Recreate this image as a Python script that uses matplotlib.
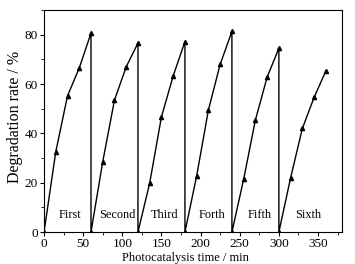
import matplotlib.pyplot as plt
from matplotlib.ticker import MultipleLocator

plt.rcParams['font.family'] = ['Liberation Serif', 'DejaVu Serif']

# photocatalysis time (min) and degradation rate (%) for six cycles
time = [0, 15, 30, 45, 60,
        60, 75, 90, 105, 120,
        120, 135, 150, 165, 180,
        180, 195, 210, 225, 240,
        240, 255, 270, 285, 300,
        300, 315, 330, 345, 360]
rate = [0, 32.5, 55.2, 66.5, 80.6,
        0, 28.5, 53.5, 67.0, 76.6,
        0, 19.9, 46.7, 63.3, 77.2,
        0, 22.8, 49.5, 68.0, 81.3,
        0, 21.4, 45.4, 62.8, 74.5,
        0, 22.0, 42.0, 54.6, 65.3]
cycle_names = ['First', 'Second', 'Third', 'Forth', 'Fifth', 'Sixth']
name_x = [33, 93, 154, 214, 275, 337]

fig = plt.figure(figsize=(3.55, 2.64), dpi=100)
ax = fig.add_axes([0.124, 0.121, 0.838, 0.841])

ax.plot(time, rate, color='black', lw=1.0, marker='^', markersize=3)

for name, x in zip(cycle_names, name_x):
    ax.text(x, 6.8, name, ha='center', va='center', fontsize=8.8)

ax.set_xlim(0, 380)
ax.set_ylim(0, 90)
ax.xaxis.set_major_locator(MultipleLocator(50))
ax.xaxis.set_minor_locator(MultipleLocator(25))
ax.yaxis.set_major_locator(MultipleLocator(20))
ax.yaxis.set_minor_locator(MultipleLocator(10))
ax.tick_params(which='major', direction='out', length=3, labelsize=9.5, pad=1.5)
ax.tick_params(which='minor', direction='out', length=2)

ax.set_xlabel('Photocatalysis time / min', fontsize=9, va='center')
ax.set_ylabel('Degradation rate / %', fontsize=11.5, va='center')
ax.xaxis.set_label_coords(0.475, -0.117)
ax.yaxis.set_label_coords(-0.097, 0.52)

fig.savefig('out.png')
